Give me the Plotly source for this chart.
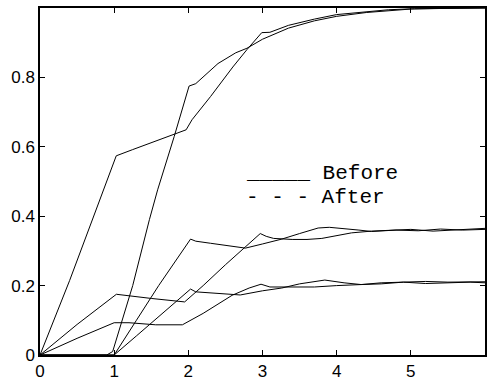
import plotly.graph_objects as go

# ---- data ----
a_x = [0, 0.4, 0.75, 1.028, 1.25, 1.5, 1.75, 1.97, 2.05, 2.3, 2.6, 2.79, 2.99, 3.1, 3.35, 3.7, 4.0, 4.4, 4.7, 5.05, 5.5, 6.0]
a_y = [0, 0.215, 0.415, 0.574, 0.592, 0.612, 0.632, 0.649, 0.678, 0.745, 0.83, 0.88, 0.929, 0.93, 0.95, 0.968, 0.981, 0.99, 0.995, 0.998, 0.999, 1.0]

b_x = [0, 0.9, 0.98, 1.25, 1.475, 1.586, 1.81, 2.01, 2.1, 2.23, 2.4, 2.64, 2.79, 3.0, 3.35, 3.7, 4.0, 4.4, 4.7, 5.0, 5.5, 6.0]
b_y = [0, 0, 0.01, 0.2, 0.39, 0.476, 0.63, 0.775, 0.782, 0.808, 0.84, 0.871, 0.884, 0.91, 0.942, 0.963, 0.976, 0.987, 0.993, 0.997, 0.999, 1.0]

c_x = [0, 0.5, 1.03, 1.2, 1.5, 1.95, 2.2, 2.5, 2.77, 2.97, 3.05, 3.15, 3.4, 3.6, 3.8, 4.0, 4.2, 4.47, 4.7, 5.0, 5.3, 5.6, 6.0]
c_y = [0, 0.088, 0.175, 0.17, 0.163, 0.153, 0.2, 0.26, 0.311, 0.35, 0.342, 0.336, 0.333, 0.333, 0.336, 0.345, 0.352, 0.357, 0.36, 0.362, 0.357, 0.36, 0.365]

d_x = [0, 0.5, 1.0, 1.2, 1.56, 1.92, 2.2, 2.59, 2.82, 2.98, 3.1, 3.4, 3.7, 4.0, 4.33, 4.6, 4.9, 5.2, 5.5, 5.8, 6.0]
d_y = [0, 0.048, 0.093, 0.093, 0.087, 0.087, 0.12, 0.172, 0.193, 0.204, 0.196, 0.195, 0.196, 0.2, 0.203, 0.208, 0.21, 0.206, 0.207, 0.21, 0.208]

e_x = [0, 1.0, 1.3, 1.6, 2.03, 2.1, 2.3, 2.61, 2.77, 3.0, 3.26, 3.5, 3.75, 3.9, 4.1, 4.3, 4.47, 4.8, 5.1, 5.4, 5.7, 6.0]
e_y = [0, 0, 0.1, 0.2, 0.334, 0.328, 0.322, 0.313, 0.308, 0.32, 0.334, 0.35, 0.366, 0.368, 0.365, 0.36, 0.356, 0.36, 0.358, 0.363, 0.36, 0.362]

f_x = [0, 1.0, 1.3, 1.6, 2.03, 2.1, 2.4, 2.7, 3.0, 3.26, 3.5, 3.84, 4.1, 4.33, 4.6, 4.9, 5.2, 5.5, 6.0]
f_y = [0, 0, 0.055, 0.11, 0.19, 0.182, 0.177, 0.173, 0.185, 0.193, 0.205, 0.216, 0.208, 0.203, 0.205, 0.21, 0.212, 0.21, 0.211]

x_ticks = [0, 1, 2, 3, 4, 5]
y_ticks = [0, 0.2, 0.4, 0.6, 0.8]
y_tick_text = ["0", "0.2", "0.4", "0.6", "0.8"]
legend_lines = ["_____ Before", "- - - After"]

fig = go.Figure()
for xs, ys in [(a_x, a_y), (b_x, b_y), (c_x, c_y), (d_x, d_y), (e_x, e_y), (f_x, f_y)]:
    fig.add_trace(go.Scatter(x=xs, y=ys, mode="lines",
                             line=dict(color="black", width=1), hoverinfo="skip"))

mono = "Courier New, Liberation Mono, monospace"
fig.add_annotation(x=2.76, y=0.522, xref="x", yref="y", text=legend_lines[0],
                   showarrow=False, xanchor="left", yanchor="middle", borderpad=0,
                   font=dict(family=mono, size=21, color="black"))
fig.add_annotation(x=2.76, y=0.455, xref="x", yref="y", text=legend_lines[1],
                   showarrow=False, xanchor="left", yanchor="middle", borderpad=0,
                   font=dict(family=mono, size=21, color="black"))

axis_common = dict(showgrid=False, zeroline=False, showline=True, linecolor="black",
                   linewidth=1.5, mirror="ticks", ticks="inside", ticklen=5,
                   tickcolor="black", tickwidth=1,
                   tickfont=dict(family="Arial, Liberation Sans, sans-serif", size=17, color="black"))

fig.update_xaxes(range=[0, 6], tickvals=x_ticks, **axis_common)
fig.update_yaxes(range=[0, 1], tickvals=y_ticks, ticktext=y_tick_text, **axis_common)

fig.update_layout(width=487, height=386, margin=dict(l=40, r=0, t=8, b=31),
                  plot_bgcolor="white", paper_bgcolor="white", showlegend=False)

fig.write_html("out.html")
